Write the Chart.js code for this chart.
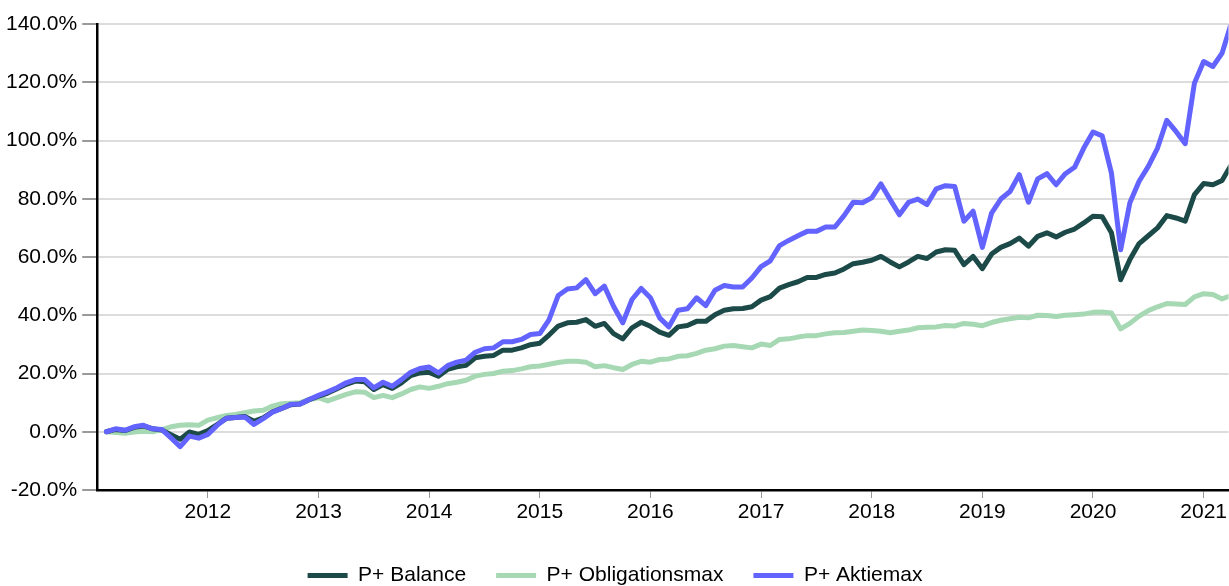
<!DOCTYPE html>
<html>
<head>
<meta charset="utf-8">
<script src="https://cdn.jsdelivr.net/npm/chart.js@4"></script>
<style>
  html, body { margin: 0; padding: 0; background: #fff; }
  #wrap { width: 1229px; height: 586px; }
</style>
</head>
<body>
<div id="wrap"><canvas id="chart"></canvas></div>
<script>
// monthly returns since start, month-end values from Jan 2011 to Mar 2021
const startYear = 2011;
const yearTicks = [2012, 2013, 2014, 2015, 2016, 2017, 2018, 2019, 2020, 2021];

const balance = [
  0.0, 0.8, 0.4, 1.5, 2.0, 1.0, 0.6, -1.0, -2.6, -0.1, -0.9, 0.4,
  2.5, 4.6, 4.9, 5.2, 3.6, 4.8, 6.8, 8.0, 9.3, 9.5, 11.0, 12.2,
  13.3, 14.8, 16.3, 17.4, 17.2, 14.5, 16.2, 14.9, 16.8, 19.3, 20.2, 20.4,
  19.1, 21.4, 22.3, 22.8, 25.4, 25.9, 26.2, 28.0, 28.0, 28.8, 29.9, 30.4,
  33.2, 36.3, 37.4, 37.6, 38.5, 36.2, 37.2, 33.7, 31.9, 35.7, 37.6, 36.2,
  34.2, 33.1, 36.0, 36.5, 37.9, 37.9, 40.2, 41.7, 42.2, 42.3, 42.9, 45.2,
  46.4, 49.3, 50.5, 51.5, 53.0, 53.0, 54.0, 54.5, 55.9, 57.7, 58.2, 58.9,
  60.2, 58.3, 56.6, 58.3, 60.2, 59.5, 61.7, 62.5, 62.3, 57.4, 60.2, 56.0,
  61.0, 63.3, 64.6, 66.5, 63.7, 67.1, 68.3, 66.9, 68.5, 69.6, 71.7, 74.0,
  73.8, 68.3, 52.2, 59.1, 64.6, 67.3, 70.0, 74.2, 73.4, 72.3, 81.4, 85.2,
  84.8, 86.3, 91.7
];

const obligationsmax = [
  0.0, -0.3, -0.5, -0.1, 0.2, 0.0, 0.7, 1.7, 2.2, 2.4, 2.2, 4.0,
  4.8, 5.6, 5.9, 6.5, 7.1, 7.4, 8.8, 9.6, 9.8, 10.0, 11.1, 11.7,
  10.6, 11.7, 12.8, 13.7, 13.6, 11.7, 12.5, 11.7, 13.0, 14.5, 15.4, 14.9,
  15.6, 16.5, 17.0, 17.7, 19.1, 19.7, 20.0, 20.8, 21.0, 21.6, 22.3, 22.6,
  23.2, 23.8, 24.2, 24.2, 23.9, 22.3, 22.7, 22.0, 21.4, 23.1, 24.2, 23.9,
  24.8, 25.0, 25.9, 26.1, 26.9, 28.0, 28.5, 29.4, 29.6, 29.2, 28.8, 30.1,
  29.6, 31.7, 31.9, 32.5, 33.0, 33.0, 33.6, 34.0, 34.1, 34.5, 34.9, 34.8,
  34.5, 34.0, 34.5, 34.9, 35.7, 35.9, 36.0, 36.5, 36.3, 37.2, 36.9, 36.4,
  37.5, 38.3, 38.8, 39.3, 39.1, 40.0, 39.9, 39.6, 40.0, 40.2, 40.4, 41.0,
  41.1, 40.8, 35.3, 37.2, 39.7, 41.6, 42.9, 44.0, 43.9, 43.7, 46.3, 47.4,
  47.1, 45.6, 46.8
];

const aktiemax = [
  0.0, 1.0, 0.5, 1.7, 2.2, 1.0, 0.8, -2.1, -5.1, -1.5, -2.2, -0.9,
  2.2, 4.6, 4.9, 5.1, 2.5, 4.5, 6.7, 8.0, 9.4, 9.5, 11.1, 12.5,
  13.7, 15.1, 16.8, 17.9, 17.9, 15.1, 17.0, 15.6, 17.9, 20.4, 21.7, 22.2,
  20.2, 22.7, 23.9, 24.6, 27.3, 28.5, 28.8, 30.9, 30.9, 31.7, 33.4, 33.7,
  38.4, 46.8, 49.0, 49.4, 52.2, 47.4, 50.0, 43.1, 37.4, 45.4, 49.2, 46.0,
  39.1, 36.0, 41.7, 42.2, 46.0, 43.3, 48.6, 50.2, 49.7, 49.7, 52.8, 56.7,
  58.7, 63.9, 65.7, 67.3, 68.8, 68.8, 70.3, 70.3, 74.2, 78.8, 78.6, 80.3,
  85.1, 79.7, 74.5, 78.8, 79.9, 78.0, 83.4, 84.5, 84.2, 72.3, 75.7, 63.3,
  75.1, 79.9, 82.5, 88.3, 78.8, 86.8, 88.6, 84.8, 88.6, 90.8, 97.4, 102.9,
  101.6, 88.8, 62.5, 78.6, 86.0, 91.1, 97.4, 106.9, 103.1, 98.9, 119.7, 127.1,
  125.4, 130.0, 140.3
];

// month labels, e.g. "2011-01"
const months = balance.map((_, i) => {
  const y = startYear + Math.floor(i / 12);
  const m = (i % 12) + 1;
  return y + '-' + String(m).padStart(2, '0');
});

// month-end sits at the start of the next month on the year axis
function toPoints(values) {
  return values.map((v, i) => {
    const [y, m] = months[i].split('-').map(Number);
    return { x: y + m / 12, y: v };
  });
}

const font = { family: 'Liberation Sans, Arial, sans-serif', size: 21 };

new Chart(document.getElementById('chart').getContext('2d'), {
  type: 'line',
  data: {
    datasets: [
      { label: 'P+ Balance', data: toPoints(balance), borderColor: '#1b4a48', backgroundColor: '#1b4a48', order: 1 },
      { label: 'P+ Obligationsmax', data: toPoints(obligationsmax), borderColor: '#a6d9b3', backgroundColor: '#a6d9b3', order: 2 },
      { label: 'P+ Aktiemax', data: toPoints(aktiemax), borderColor: '#6363ff', backgroundColor: '#6363ff', order: 0 }
    ]
  },
  options: {
    responsive: true,
    maintainAspectRatio: false,
    animation: false,
    layout: { padding: { left: 1, top: 24, right: 0, bottom: -10 } },
    elements: {
      line: { borderWidth: 5, tension: 0, borderJoinStyle: 'round', borderCapStyle: 'round' },
      point: { radius: 0 }
    },
    plugins: {
      tooltip: { enabled: false },
      legend: {
        position: 'bottom',
        labels: {
          color: '#000',
          font: font,
          boxWidth: 40,
          boxHeight: 5,
          padding: 30,
          sort: (a, b) => a.datasetIndex - b.datasetIndex,
          generateLabels: chart =>
            Chart.defaults.plugins.legend.labels.generateLabels(chart).map(l => ({ ...l, lineWidth: 0 }))
        }
      }
    },
    scales: {
      x: {
        type: 'linear',
        min: 2011.0,
        max: 2021.225,
        afterBuildTicks: axis => { axis.ticks = yearTicks.map(v => ({ value: v })); },
        afterFit: axis => { axis.height = 45; },
        border: { color: '#000', width: 2.5 },
        grid: { drawOnChartArea: false, tickLength: 8, tickColor: '#999', lineWidth: 1 },
        ticks: { color: '#000', font: font, padding: 2, maxRotation: 0, callback: v => String(v) }
      },
      y: {
        min: -20,
        max: 140,
        border: { color: '#000', width: 2.5 },
        grid: { color: '#dcdcdc', lineWidth: 2, tickLength: 15, tickColor: '#999' },
        ticks: { color: '#000', font: font, padding: 5, stepSize: 20, callback: v => v.toFixed(1) + '%' }
      }
    }
  }
});
</script>
</body>
</html>
